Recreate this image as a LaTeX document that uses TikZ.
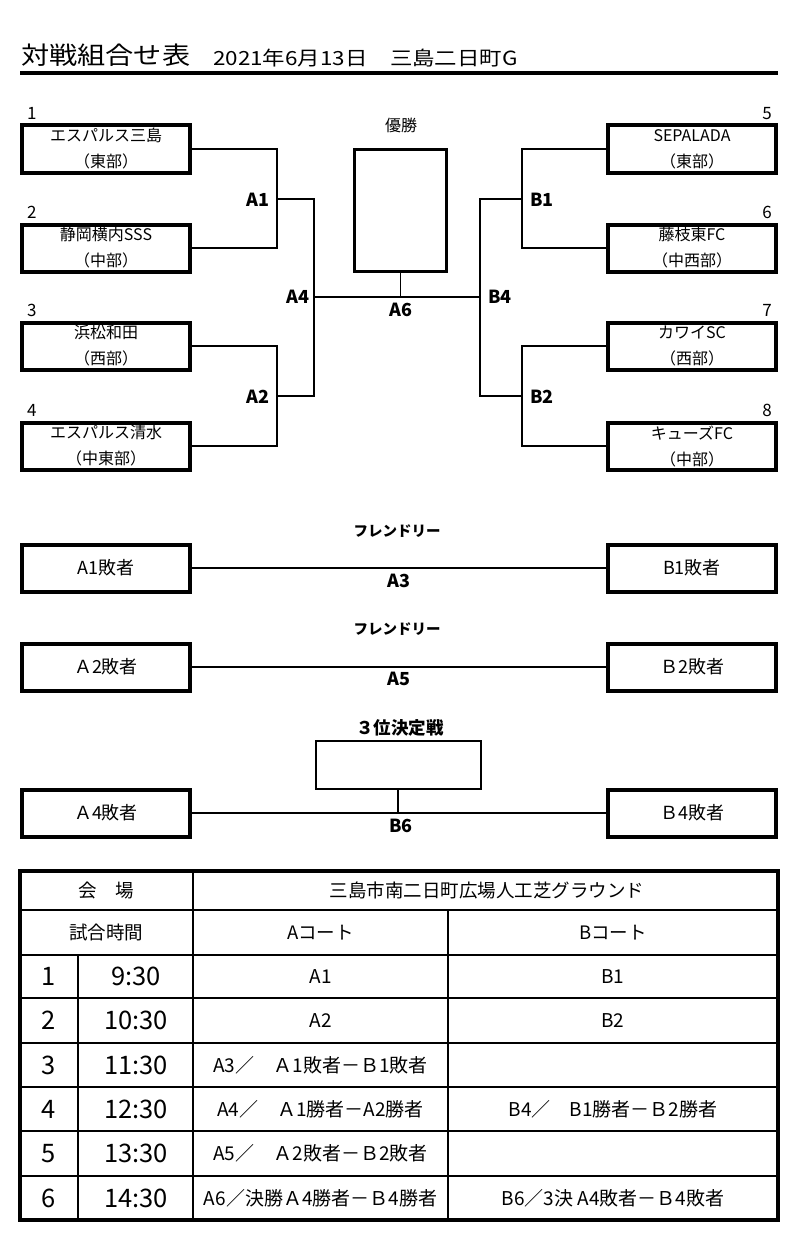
\documentclass[tikz,border=0pt]{standalone}
\usepackage{fontspec}
\setmainfont{Noto Sans CJK JP}
\newfontfamily\titlefont{Noto Sans CJK JP}[FakeStretch=1.15]
\usetikzlibrary{calc}
\begin{document}
\begin{tikzpicture}[x=1pt,y=-1pt,
  team/.style={draw, line width=4pt, minimum width=168pt, minimum height=47pt, inner sep=0pt, align=center, font=\fontsize{16}{26}\selectfont},
  lose/.style={team, font=\fontsize{18}{20}\selectfont},
  conn/.style={line width=1.6pt},
  lab/.style={font=\fontsize{18}{20}\selectfont\bfseries, inner sep=0pt},
  num/.style={font=\fontsize{17}{18}\selectfont, inner sep=0pt},
  plain/.style={font=\fontsize{16}{18}\selectfont, inner sep=0pt},
  hdr/.style={font=\fontsize{18.5}{20}\selectfont, inner sep=0pt},
  big/.style={font=\fontsize{25.5}{27}\selectfont, inner sep=0pt},
  cell/.style={font=\fontsize{19}{21}\selectfont, inner sep=0pt},
  grid/.style={line width=1.8pt}]
\useasboundingbox[fill=white] (0,0) rectangle (793,1244);

% title
\node[anchor=base west, font=\titlefont\fontsize{24.5}{26}\selectfont, inner sep=0pt] (title) at (21,65) {対戦組合せ表};
\node[anchor=base west, font=\titlefont\fontsize{19.5}{21}\selectfont, inner sep=0pt] (date) at (213,66) {2021年6月13日　三島二日町G};
\draw[line width=4pt] (20,73) -- (778,73);

% teams left
\node[team] (t1) at (106,149) {エスパルス三島\\（東部）};
\node[team] (t2) at (106,248) {静岡横内SSS\\（中部）};
\node[team] (t3) at (106,346) {浜松和田\\（西部）};
\node[team] (t4) at (106,446) {エスパルス清水\\（中東部）};
% teams right
\node[team] (t5) at (692,149) {SEPALADA\\（東部）};
\node[team] (t6) at (692,248) {藤枝東FC\\（中西部）};
\node[team] (t7) at (692,346) {カワイSC\\（西部）};
\node[team] (t8) at (692,446) {キューズFC\\（中部）};

\foreach \t/\n in {t1/1,t2/2,t3/3,t4/4} \node[num, anchor=south west] at ($(\t.north west)+(7,-4)$) {\n};
\foreach \t/\n in {t5/5,t6/6,t7/7,t8/8} \node[num, anchor=south east] at ($(\t.north east)+(-6,-4)$) {\n};

% junctions
\coordinate (a1) at (277,199);
\coordinate (a2) at (277,396);
\coordinate (a4) at (314,297);
\coordinate (b1) at (522,199);
\coordinate (b2) at (522,396);
\coordinate (b4) at (480,297);

\draw[conn] (t1.east) -| (a1) |- (t2.east);
\draw[conn] (t3.east) -| (a2) |- (t4.east);
\draw[conn] (a1) -| (a4) |- (a2);
\draw[conn] (t5.west) -| (b1) |- (t6.west);
\draw[conn] (t7.west) -| (b2) |- (t8.west);
\draw[conn] (b1) -| (b4) |- (b2);
\draw[conn] (a4) -- (b4);

% champion
\node[plain] (yusho) at (401,125) {優勝};
\node[draw, line width=3pt, minimum width=92pt, minimum height=122pt] (champ) at (400.5,210.5) {};
\draw[conn] (champ.south) -- (champ.south |- a4);

\node[lab, anchor=east] (la1) at ($(a1)+(-7,1)$) {A1};
\node[lab, anchor=east] (la2) at ($(a2)+(-7,1)$) {A2};
\node[lab, anchor=east] (la4) at ($(a4)+(-4,0)$) {A4};
\node[lab, anchor=west] (lb4) at ($(b4)+(8,0)$) {B4};
\node[lab, anchor=west] (lb1) at ($(b1)+(8,1)$) {B1};
\node[lab, anchor=west] (lb2) at ($(b2)+(8,1)$) {B2};
\node[lab] (la6) at (401,310) {A6};

% friendly 1
\node[lab, font=\fontsize{14.5}{16}\selectfont\bfseries] (fr1) at (397,531) {フレンドリー};
\node[lose] (l1) at (106,568) {A1敗者};
\node[lose] (w1) at (692,568) {B1敗者};
\draw[conn] (l1) -- (w1);
\node[lab] (la3) at (399,581) {A3};

% friendly 2
\node[lab, font=\fontsize{14.5}{16}\selectfont\bfseries] (fr2) at (397,629) {フレンドリー};
\node[lose] (l2) at (106,667) {Ａ2敗者};
\node[lose] (w2) at (692,667) {Ｂ2敗者};
\draw[conn] (l2) -- (w2);
\node[lab] (la5) at (399,679) {A5};

% third place
\node[lab, font=\fontsize{17.5}{19}\selectfont\bfseries] (thirdlab) at (400,728) {３位決定戦};
\node[draw, line width=2pt, minimum width=165pt, minimum height=48pt] (third) at (398,765) {};
\node[lose] (l4) at (106,813) {Ａ4敗者};
\node[lose] (w4) at (692,813) {Ｂ4敗者};
\draw[conn] (l4) -- (w4);
\draw[conn] (third.south) -- (third.south |- l4);
\node[lab] (lb6) at (401,826) {B6};

% table
\draw[grid] (20,910) -- (778,910);
\draw[grid] (20,955) -- (778,955);
\foreach \y in {998,1043,1087,1131,1176} \draw[grid] (20,\y) -- (778,\y);
\draw[grid] (78,955) -- (78,1220);
\draw[grid] (193,871) -- (193,1220);
\draw[grid] (448,910) -- (448,1220);
\draw[line width=3.5pt] (20,871) rectangle (778,1220);

\node[hdr] (kaijo) at (106,890.5) {会　場};
\node[hdr] (venue) at (487,890.5) {三島市南二日町広場人工芝グラウンド};
\node[hdr] (jikan) at (106,932.5) {試合時間};
\node[hdr] (acourt) at (320.5,932.5) {Aコート};
\node[hdr] (bcourt) at (613,932.5) {Bコート};

\foreach \y/\n/\tm in {976.5/1/9:30, 1020.5/2/10:30, 1065/3/11:30, 1109/4/12:30, 1153.5/5/13:30, 1198/6/14:30}{
  \node[big] at (49,\y) {\n};
  \node[big] at (136,\y) {\tm};
}
\node[cell] (r1a) at (320.5,976.5) {A1};
\node[cell] (r1b) at (613,976.5) {B1};
\node[cell] (r2a) at (320.5,1020.5) {A2};
\node[cell] (r2b) at (613,1020.5) {B2};
\node[cell] (r3a) at (320.5,1065) {A3／　Ａ1敗者－Ｂ1敗者};
\node[cell] (r4a) at (320.5,1109) {A4／　Ａ1勝者－A2勝者};
\node[cell] (r4b) at (613,1109) {B4／　B1勝者－Ｂ2勝者};
\node[cell] (r5a) at (320.5,1153.5) {A5／　Ａ2敗者－Ｂ2敗者};
\node[cell] (r6a) at (320.5,1198) {A6／決勝Ａ4勝者－Ｂ4勝者};
\node[cell] (r6b) at (613,1198) {B6／3決 A4敗者－Ｂ4敗者};
\end{tikzpicture}
\end{document}
